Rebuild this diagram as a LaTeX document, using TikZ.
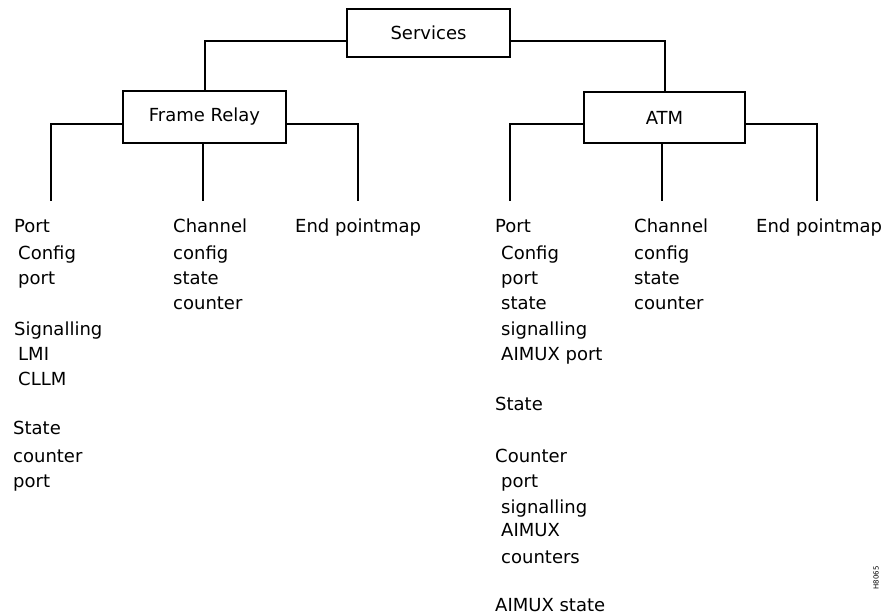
\documentclass[tikz,border=0pt]{standalone}
\usepackage{fontspec}
\setmainfont{DejaVu Sans}
\begin{document}
\begin{tikzpicture}[x=1pt,y=-1pt,
  box/.style={draw,line width=2pt,inner sep=0pt,font=\fontsize{18}{20}\selectfont},
  lbl/.style={anchor=base west,inner sep=0pt,font=\fontsize{18}{20}\selectfont},
  wire/.style={line width=2pt}]
\useasboundingbox (0,0) rectangle (892,615);
% boxes
\node[box,minimum width=163pt,minimum height=48pt] (svc) at (428.5,33) {Services};
\node[box,minimum width=163pt,minimum height=52pt] (fr) at (204.5,117) {Frame Relay};
\node[box,minimum width=161pt,minimum height=51pt] (atm) at (664.5,117.5) {ATM};
% branch ends
\coordinate (fr1) at (51,201);
\coordinate (fr2) at (203,201);
\coordinate (fr3) at (358,201);
\coordinate (at1) at (510,201);
\coordinate (at2) at (662,201);
\coordinate (at3) at (817,201);
% connectors
\draw[wire] ([yshift=-8pt]svc.west) -| (fr.north);
\draw[wire] ([yshift=-8pt]svc.east) -| (atm.north);
\draw[wire] ([yshift=-7pt]fr.west) -| (fr1);
\draw[wire] (fr.south -| fr2) -- (fr2);
\draw[wire] ([yshift=-7pt]fr.east) -| (fr3);
\draw[wire] ([yshift=-7pt]atm.west) -| (at1);
\draw[wire] (atm.south -| at2) -- (at2);
\draw[wire] ([yshift=-7pt]atm.east) -| (at3);
% Frame Relay texts
\node[lbl] (fa1) at (14,232) {Port};
\node[lbl] (fa2) at (18,259) {Config};
\node[lbl] (fa3) at (18,284) {port};
\node[lbl] (fa4) at (14,335) {Signalling};
\node[lbl] (fa5) at (18,360) {LMI};
\node[lbl] (fa6) at (18,385) {CLLM};
\node[lbl] (fa7) at (13,434) {State};
\node[lbl] (fa8) at (13,462) {counter};
\node[lbl] (fa9) at (13,487) {port};
\node[lbl] (fb1) at (173,232) {Channel};
\node[lbl] (fb2) at (173,259) {config};
\node[lbl] (fb3) at (173,284) {state};
\node[lbl] (fb4) at (173,309) {counter};
\node[lbl] (fc1) at (295,232) {End pointmap};
% ATM texts
\node[lbl] (aa1) at (495,232) {Port};
\node[lbl] (aa2) at (501,259) {Config};
\node[lbl] (aa3) at (501,284) {port};
\node[lbl] (aa4) at (501,309) {state};
\node[lbl] (aa5) at (501,335) {signalling};
\node[lbl] (aa6) at (501,360) {AIMUX port};
\node[lbl] (aa7) at (495,410) {State};
\node[lbl] (aa8) at (495,462) {Counter};
\node[lbl] (aa9) at (501,487) {port};
\node[lbl] (aa10) at (501,513) {signalling};
\node[lbl] (aa11) at (501,536) {AIMUX};
\node[lbl] (aa12) at (501,563) {counters};
\node[lbl] (aa13) at (495,611) {AIMUX state};
\node[lbl] (ab1) at (634,232) {Channel};
\node[lbl] (ab2) at (634,259) {config};
\node[lbl] (ab3) at (634,284) {state};
\node[lbl] (ab4) at (634,309) {counter};
\node[lbl] (ac1) at (756,232) {End pointmap};
% figure id
\node[rotate=90,inner sep=0pt,font=\fontsize{7}{8}\selectfont] (fid) at (876,578) {H8065};
\end{tikzpicture}
\end{document}
